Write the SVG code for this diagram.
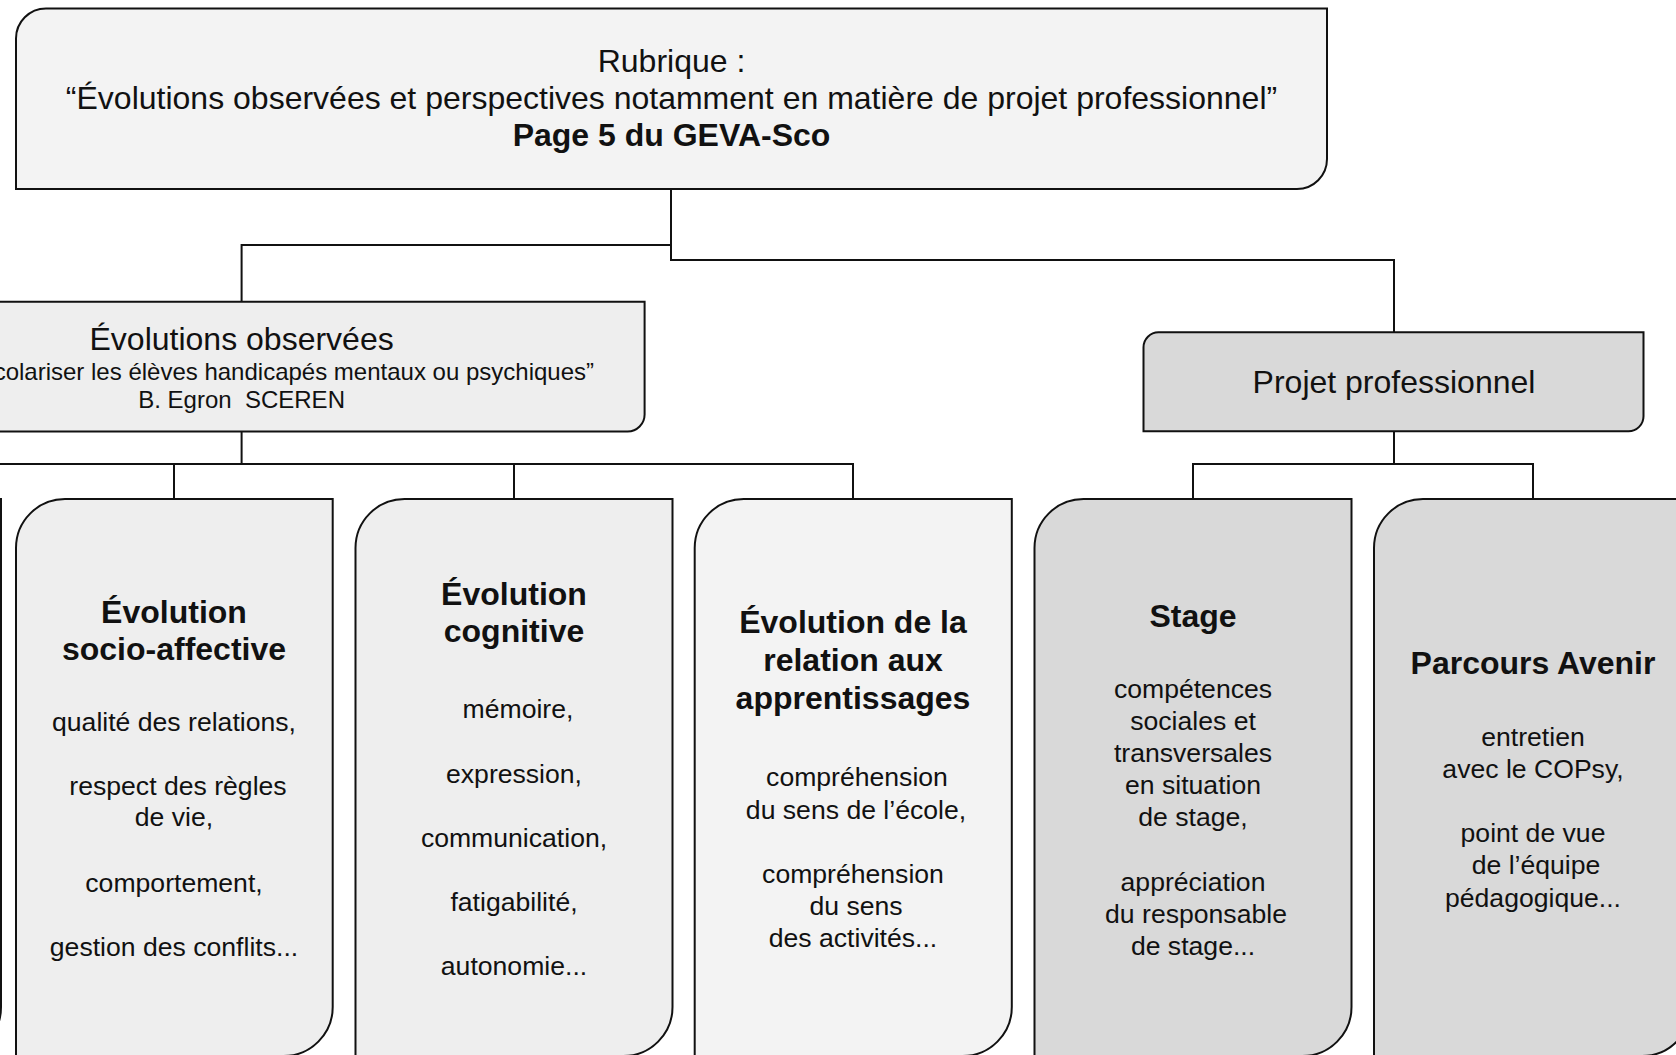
<svg xmlns="http://www.w3.org/2000/svg" width="1676" height="1055" viewBox="0 0 1676 1055">
<style>
.box{stroke:#111;stroke-width:2}
.l1{fill:#f3f3f3}
.l2{fill:#eeeeee}
.dk{fill:#d9d9d9}
.con{fill:none;stroke:#111;stroke-width:2}
text{font-family:"Liberation Sans",Arial,sans-serif;fill:#111;text-anchor:middle}
.t{font-size:32px}
.b{font-size:32px;font-weight:bold}
.s{font-size:24px}
.r{font-size:26.6px}
</style>
<rect width="1676" height="1055" fill="#ffffff"/>
<g id="connectors">
<path class="con" d="M671,189 V260 H1394 V332.3"/>
<path class="con" d="M671,245 H241.6 V301.7"/>
<path class="con" d="M241.6,431.5 V464"/>
<path class="con" d="M-20,464 H853 V499"/>
<path class="con" d="M174,464 V499"/>
<path class="con" d="M514,464 V499"/>
<path class="con" d="M1394,431.3 V464"/>
<path class="con" d="M1193,499 V464 H1533 V499"/>
</g>
<g id="n-rubrique">
<path class="box l1" d="M16,38.5 A30,30 0 0 1 46,8.5 H1327 V159 A30,30 0 0 1 1297,189 H16 Z"/>
<text class="t" x="671.5" y="72">Rubrique :</text>
<text class="t" x="671.5" y="109">“Évolutions observées et perspectives notamment en matière de projet professionnel”</text>
<text class="b" x="671.5" y="146">Page 5 du GEVA-Sco</text>
</g>
<g id="n-evolutions">
<path class="box l2" d="M-162,318.7 A17,17 0 0 1 -145,301.7 H644.6 V414.5 A17,17 0 0 1 627.6,431.5 H-162 Z"/>
<text class="t" x="241.6" y="350">Évolutions observées</text>
<text class="s" x="594" y="380" style="text-anchor:end">“Scolariser les élèves handicapés mentaux ou psychiques”</text>
<text class="s" x="241.6" y="408" xml:space="preserve">B. Egron  SCEREN</text>
</g>
<g id="n-projet">
<path class="box dk" d="M1143.5,347.3 A15,15 0 0 1 1158.5,332.3 H1643.5 V416.3 A15,15 0 0 1 1628.5,431.3 H1143.5 Z"/>
<text class="t" x="1394" y="393">Projet professionnel</text>
</g>
<g id="n-a">
<path class="box l1" d="M-316,548 A49,49 0 0 1 -267,499 H1 V1007 A49,49 0 0 1 -48,1056 H-316 Z"/>
</g>
<g id="n-socio">
<path class="box l2" d="M16,548 A49,49 0 0 1 65,499 H332.7 V1007 A49,49 0 0 1 283.7,1056 H16 Z"/>
<text class="b" x="174" y="623">Évolution</text>
<text class="b" x="174" y="659.5">socio-affective</text>
<text class="r" x="174" y="731">qualité des relations,</text>
<text class="r" x="178" y="795">respect des règles</text>
<text class="r" x="174" y="826">de vie,</text>
<text class="r" x="174" y="891.5">comportement,</text>
<text class="r" x="174" y="956">gestion des conflits...</text>
</g>
<g id="n-cognitive">
<path class="box l2" d="M355.5,548 A49,49 0 0 1 404.5,499 H672.5 V1007 A49,49 0 0 1 623.5,1056 H355.5 Z"/>
<text class="b" x="514" y="605">Évolution</text>
<text class="b" x="514" y="641.5">cognitive</text>
<text class="r" x="518" y="718">mémoire,</text>
<text class="r" x="514" y="782.5">expression,</text>
<text class="r" x="514" y="846.5">communication,</text>
<text class="r" x="514" y="910.5">fatigabilité,</text>
<text class="r" x="514" y="975">autonomie...</text>
</g>
<g id="n-relation">
<path class="box l1" d="M694.7,548 A49,49 0 0 1 743.7,499 H1011.8 V1007 A49,49 0 0 1 962.8,1056 H694.7 Z"/>
<text class="b" x="853" y="633">Évolution de la</text>
<text class="b" x="853" y="671">relation aux</text>
<text class="b" x="853" y="709">apprentissages</text>
<text class="r" x="857" y="786">compréhension</text>
<text class="r" x="856" y="819">du sens de l’école,</text>
<text class="r" x="853" y="883">compréhension</text>
<text class="r" x="856" y="915">du sens</text>
<text class="r" x="853" y="947">des activités...</text>
</g>
<g id="n-stage">
<path class="box dk" d="M1034.5,548 A49,49 0 0 1 1083.5,499 H1351.5 V1007 A49,49 0 0 1 1302.5,1056 H1034.5 Z"/>
<text class="b" x="1193" y="626.5">Stage</text>
<text class="r" x="1193" y="698">compétences</text>
<text class="r" x="1193" y="730">sociales et</text>
<text class="r" x="1193" y="762">transversales</text>
<text class="r" x="1193" y="794">en situation</text>
<text class="r" x="1193" y="826">de stage,</text>
<text class="r" x="1193" y="890.5">appréciation</text>
<text class="r" x="1196" y="922.5">du responsable</text>
<text class="r" x="1193" y="954.5">de stage...</text>
</g>
<g id="n-parcours">
<path class="box dk" d="M1374,548 A49,49 0 0 1 1423,499 H1691 V1007 A49,49 0 0 1 1642,1056 H1374 Z"/>
<text class="b" x="1533" y="673.5">Parcours Avenir</text>
<text class="r" x="1533" y="746">entretien</text>
<text class="r" x="1533" y="778">avec le COPsy,</text>
<text class="r" x="1533" y="842">point de vue</text>
<text class="r" x="1536" y="874">de l’équipe</text>
<text class="r" x="1533" y="906.5">pédagogique...</text>
</g>
</svg>
